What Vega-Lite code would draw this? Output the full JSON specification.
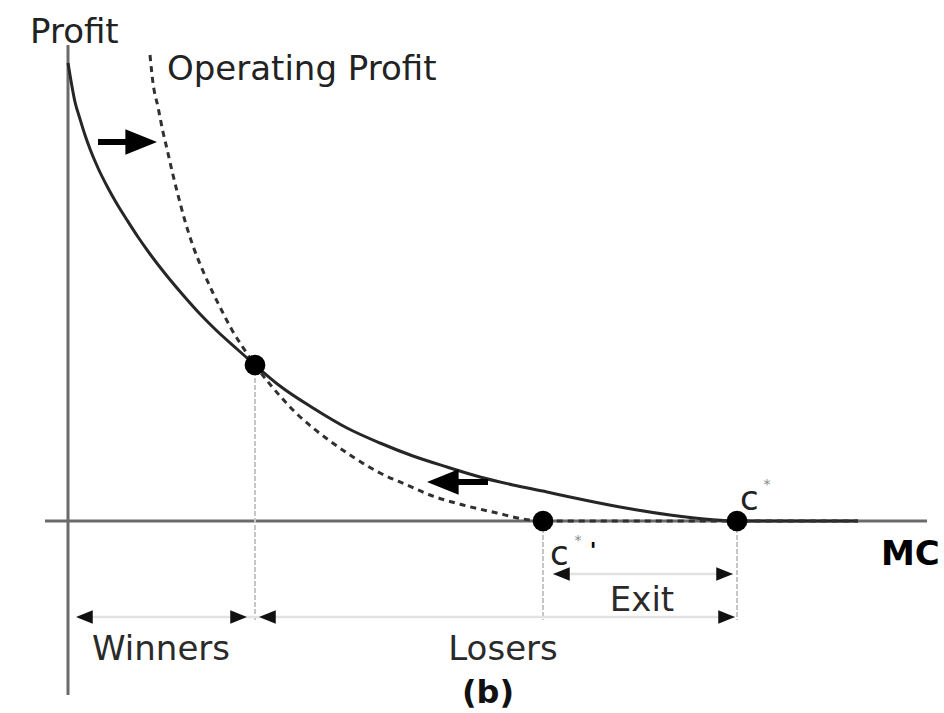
{
  "$schema": "https://vega.github.io/schema/vega-lite/v6.json",
  "width": 944,
  "height": 713,
  "padding": 0,
  "autosize": {"type": "none"},
  "background": "white",
  "config": {"view": {"stroke": null}, "text": {"font": "DejaVu Sans"}},
  "datasets": {
    "axes": [
      {"x": -0.23, "x2": 8.59, "y": 0, "y2": 0},
      {"x": 0, "x2": 0, "y": 4.76, "y2": -1.74}
    ],
    "guides": [
      {"x": 1.87, "x2": 1.87, "y": 1.5, "y2": -0.99},
      {"x": 4.75, "x2": 4.75, "y": 0, "y2": -0.99},
      {"x": 6.69, "x2": 6.69, "y": 0, "y2": -0.99}
    ],
    "brackets": [
      {"x": 0.1, "x2": 6.67, "y": -0.96, "y2": -0.96},
      {"x": 4.85, "x2": 6.65, "y": -0.53, "y2": -0.53}
    ],
    "bracketHeads": [
      {"x": 0.08, "y": -0.96, "dir": "left"},
      {"x": 1.79, "y": -0.96, "dir": "right"},
      {"x": 1.91, "y": -0.96, "dir": "left"},
      {"x": 6.67, "y": -0.96, "dir": "right"},
      {"x": 4.85, "y": -0.53, "dir": "left"},
      {"x": 6.65, "y": -0.53, "dir": "right"}
    ],
    "profit": [
      {"x": 0.0, "y": 4.58}, {"x": 0.03, "y": 4.4}, {"x": 0.07, "y": 4.19},
      {"x": 0.12, "y": 4.02}, {"x": 0.17, "y": 3.86}, {"x": 0.22, "y": 3.72},
      {"x": 0.3, "y": 3.53}, {"x": 0.4, "y": 3.33}, {"x": 0.49, "y": 3.17},
      {"x": 0.59, "y": 3.01}, {"x": 0.7, "y": 2.84}, {"x": 0.82, "y": 2.67},
      {"x": 0.99, "y": 2.45}, {"x": 1.15, "y": 2.26}, {"x": 1.32, "y": 2.07},
      {"x": 1.49, "y": 1.9}, {"x": 1.69, "y": 1.72}, {"x": 1.87, "y": 1.56},
      {"x": 2.12, "y": 1.35}, {"x": 2.45, "y": 1.13}, {"x": 2.79, "y": 0.93},
      {"x": 3.12, "y": 0.78}, {"x": 3.45, "y": 0.65}, {"x": 3.79, "y": 0.54},
      {"x": 4.12, "y": 0.44}, {"x": 4.45, "y": 0.36}, {"x": 4.79, "y": 0.29},
      {"x": 5.02, "y": 0.24}, {"x": 5.52, "y": 0.14}, {"x": 6.02, "y": 0.06},
      {"x": 6.42, "y": 0.015}, {"x": 6.69, "y": 0}, {"x": 7.9, "y": 0}
    ],
    "operating": [
      {"x": 0.82, "y": 4.66}, {"x": 0.85, "y": 4.38}, {"x": 0.9, "y": 4.14},
      {"x": 0.95, "y": 3.89}, {"x": 0.99, "y": 3.72}, {"x": 1.05, "y": 3.46},
      {"x": 1.1, "y": 3.26}, {"x": 1.17, "y": 3.0}, {"x": 1.25, "y": 2.75},
      {"x": 1.35, "y": 2.5}, {"x": 1.45, "y": 2.28}, {"x": 1.54, "y": 2.1},
      {"x": 1.64, "y": 1.91}, {"x": 1.74, "y": 1.75}, {"x": 1.87, "y": 1.56},
      {"x": 2.12, "y": 1.25}, {"x": 2.29, "y": 1.07}, {"x": 2.45, "y": 0.93},
      {"x": 2.62, "y": 0.8}, {"x": 2.85, "y": 0.64}, {"x": 3.12, "y": 0.48},
      {"x": 3.39, "y": 0.36}, {"x": 3.62, "y": 0.26}, {"x": 3.95, "y": 0.16},
      {"x": 4.29, "y": 0.08}, {"x": 4.55, "y": 0.02}, {"x": 4.75, "y": 0},
      {"x": 7.9, "y": 0}
    ],
    "shifts": [
      {"x": 0.3, "x2": 0.62, "y": 3.79, "y2": 3.79},
      {"x": 3.85, "x2": 4.2, "y": 0.39, "y2": 0.39}
    ],
    "shiftHeads": [
      {"x": 0.89, "y": 3.79, "dir": "right"},
      {"x": 3.59, "y": 0.39, "dir": "left"}
    ],
    "cutoffs": [
      {"x": 1.87, "y": 1.56},
      {"x": 4.75, "y": 0},
      {"x": 6.69, "y": 0}
    ],
    "labelsLeft": [
      {"x": -0.38, "y": 4.78, "label": "Profit"},
      {"x": 0.99, "y": 4.41, "label": "Operating Profit"},
      {"x": 6.72, "y": 0.11, "label": "c"},
      {"x": 4.82, "y": -0.44, "label": "c"}
    ],
    "labelsCenter": [
      {"x": 0.93, "y": -1.39, "label": "Winners"},
      {"x": 4.35, "y": -1.39, "label": "Losers"},
      {"x": 5.74, "y": -0.9, "label": "Exit"}
    ],
    "labelsBoldLeft": [
      {"x": 8.13, "y": -0.44, "label": "MC"}
    ],
    "labelsBoldCenter": [
      {"x": 4.2, "y": -1.72, "label": "(b)"}
    ],
    "stars": [
      {"x": 6.99, "y": 0.36, "label": "*"},
      {"x": 5.1, "y": -0.2, "label": "*"}
    ],
    "primes": [
      {"x": 5.25, "y": -0.3, "label": "'"}
    ]
  },
  "encoding": {
    "x": {"field": "x", "type": "quantitative", "scale": {"domain": [-0.68, 8.76], "nice": false, "zero": false}, "axis": null},
    "y": {"field": "y", "type": "quantitative", "scale": {"domain": [-1.92, 5.21], "nice": false, "zero": false}, "axis": null}
  },
  "layer": [
    {
      "data": {"name": "axes"},
      "mark": {"type": "rule", "color": "#6b6b6b", "strokeWidth": 3},
      "encoding": {"x2": {"field": "x2"}, "y2": {"field": "y2"}}
    },
    {
      "data": {"name": "guides"},
      "mark": {"type": "rule", "color": "#c6c6c6", "strokeWidth": 2, "strokeDash": [5, 2]},
      "encoding": {"x2": {"field": "x2"}, "y2": {"field": "y2"}}
    },
    {
      "data": {"name": "brackets"},
      "mark": {"type": "rule", "color": "#e2e2e2", "strokeWidth": 2.5},
      "encoding": {"x2": {"field": "x2"}, "y2": {"field": "y2"}}
    },
    {
      "data": {"name": "bracketHeads"},
      "mark": {"type": "point", "filled": true, "color": "#111", "opacity": 1, "size": 280, "strokeWidth": 0},
      "encoding": {
        "shape": {"field": "dir", "type": "nominal", "legend": null,
          "scale": {"domain": ["left", "right"], "range": ["M0,0L2,-0.8L2,0.8Z", "M0,0L-2,-0.8L-2,0.8Z"]}}
      }
    },
    {
      "data": {"name": "profit"},
      "mark": {"type": "line", "color": "#262626", "strokeWidth": 3, "interpolate": "monotone"}
    },
    {
      "data": {"name": "operating"},
      "mark": {"type": "line", "color": "#303030", "strokeWidth": 3, "strokeDash": [6, 5], "interpolate": "monotone"}
    },
    {
      "data": {"name": "shifts"},
      "mark": {"type": "rule", "color": "#000", "strokeWidth": 6},
      "encoding": {"x2": {"field": "x2"}, "y2": {"field": "y2"}}
    },
    {
      "data": {"name": "shiftHeads"},
      "mark": {"type": "point", "filled": true, "color": "#000", "opacity": 1, "size": 1000, "strokeWidth": 0},
      "encoding": {
        "shape": {"field": "dir", "type": "nominal", "legend": null,
          "scale": {"domain": ["left", "right"], "range": ["M0,0L2,-0.72L2,0.72Z", "M0,0L-2,-0.72L-2,0.72Z"]}}
      }
    },
    {
      "data": {"name": "cutoffs"},
      "mark": {"type": "point", "shape": "circle", "filled": true, "color": "#000", "opacity": 1, "size": 430}
    },
    {
      "data": {"name": "labelsLeft"},
      "mark": {"type": "text", "align": "left", "baseline": "alphabetic", "fontSize": 34, "color": "#222"},
      "encoding": {"text": {"field": "label"}}
    },
    {
      "data": {"name": "labelsCenter"},
      "mark": {"type": "text", "align": "center", "baseline": "alphabetic", "fontSize": 34, "color": "#2a2a2a"},
      "encoding": {"text": {"field": "label"}}
    },
    {
      "data": {"name": "labelsBoldLeft"},
      "mark": {"type": "text", "align": "left", "baseline": "alphabetic", "fontSize": 34, "fontWeight": "bold", "color": "#000"},
      "encoding": {"text": {"field": "label"}}
    },
    {
      "data": {"name": "labelsBoldCenter"},
      "mark": {"type": "text", "align": "center", "baseline": "middle", "fontSize": 32, "fontWeight": "bold", "color": "#111"},
      "encoding": {"text": {"field": "label"}}
    },
    {
      "data": {"name": "stars"},
      "mark": {"type": "text", "align": "center", "baseline": "middle", "fontSize": 14, "color": "#888"},
      "encoding": {"text": {"field": "label"}}
    },
    {
      "data": {"name": "primes"},
      "mark": {"type": "text", "align": "center", "baseline": "middle", "fontSize": 22, "fontWeight": "bold", "color": "#000"},
      "encoding": {"text": {"field": "label"}}
    }
  ]
}
